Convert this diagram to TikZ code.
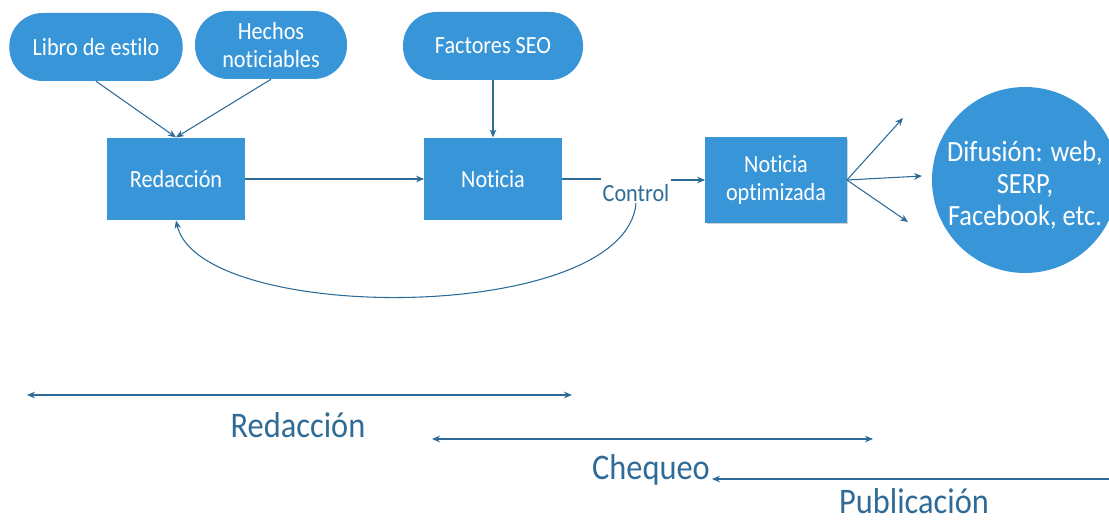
\documentclass[tikz,border=0pt]{standalone}
\usepackage{fontspec}
\setmainfont{Carlito}[FakeStretch=0.9, Ligatures={NoCommon}]
\usetikzlibrary{arrows.meta,shadows}
\definecolor{boxblue}{HTML}{3896D8}
\definecolor{lineblue}{HTML}{2C6B98}
\definecolor{textblue}{HTML}{2F6B96}
\begin{document}
\begin{tikzpicture}[x=0.75pt,y=-0.75pt,
			every node/.style={text=white, align=center, font=\fontsize{18.5}{21}\selectfont},
			pill/.style={fill=boxblue, rounded corners=25pt, minimum height=51pt},
			box/.style={fill=boxblue, minimum width=103pt, minimum height=62pt},
			arrow/.style={-{Stealth[length=6pt,width=5pt]}, lineblue, line width=0.8pt},
			twoway/.style={{Stealth[length=6pt,width=5pt]}-{Stealth[length=6pt,width=5pt]}, lineblue, line width=0.8pt},
			phase/.style={text=textblue, inner sep=0pt, font=\fontsize{27}{30}\selectfont}
			]
			\useasboundingbox (0,0) rectangle (1109,523);
			
			% Nodes
			\node[pill, minimum width=130pt] (libro) at (96,47) {Libro de estilo};
			\node[pill, minimum width=114pt] (hechos) at (271,45) {Hechos\\noticiables};
			\node[pill, minimum width=135pt] (seo) at (493,46) {Factores SEO};
			\node[box] (red) at (176,179) {Redacción};
			\node[box] (noticia) at (493,179) {Noticia};
			\node[box, minimum width=106pt, minimum height=64pt,
				drop shadow={opacity=.35, shadow xshift=1pt, shadow yshift=-1pt}] (opt) at (776,180) {Noticia\\optimizada};
			\node[circle, fill=boxblue, minimum size=139.5pt, inner sep=0pt] (dif) at (1025,180) {};
			\node[font=\fontsize{22}{24}\selectfont] (diftxt) at (1025,185) {Difusión: web,\\SERP,\\Facebook, etc.};
			\node[text=textblue, inner sep=1pt] (ctl) at (636,193) {Control};
			
			% Inputs
			\draw[arrow] (libro.south) -- (red.north);
			\draw[arrow] (hechos.south) -- (red.north);
			\draw[arrow] (seo.south) -- (noticia.north);
			
			% Main flow
			\draw[arrow] (red) -- (noticia);
			\draw[lineblue, line width=0.8pt] (noticia.east) -- (noticia.east -| ctl.west);
			\draw[arrow] (opt.west -| ctl.east) -- (opt.west);
			\draw[arrow] (ctl.south) .. controls (625,325) and (200,325) .. (red.south);
			
			% Spread
			\coordinate (web) at (903,118);
			\coordinate (serp) at (922,176);
			\coordinate (fb) at (908,222);
			\draw[arrow] (opt.east) -- (web);
			\draw[arrow] (opt.east) -- (serp);
			\draw[arrow] (opt.east) -- (fb);
			
			% Phases
			\coordinate (r1) at (27,395);
			\coordinate (r2) at (572,395);
			\coordinate (c1) at (432,439);
			\coordinate (c2) at (873,439);
			\coordinate (p1) at (1109,479);
			\coordinate (p2) at (712,479);
			\draw[twoway] (r1) -- (r2);
			\draw[twoway] (c1) -- (c2);
			\draw[arrow] (p1) -- (p2);
			\node[phase] (fred) at (298,425) {Redacción};
			\node[phase] (fchq) at (651,470) {Chequeo};
			\node[phase] (fpub) at (914,501) {Publicación};
		\end{tikzpicture}
\end{document}
